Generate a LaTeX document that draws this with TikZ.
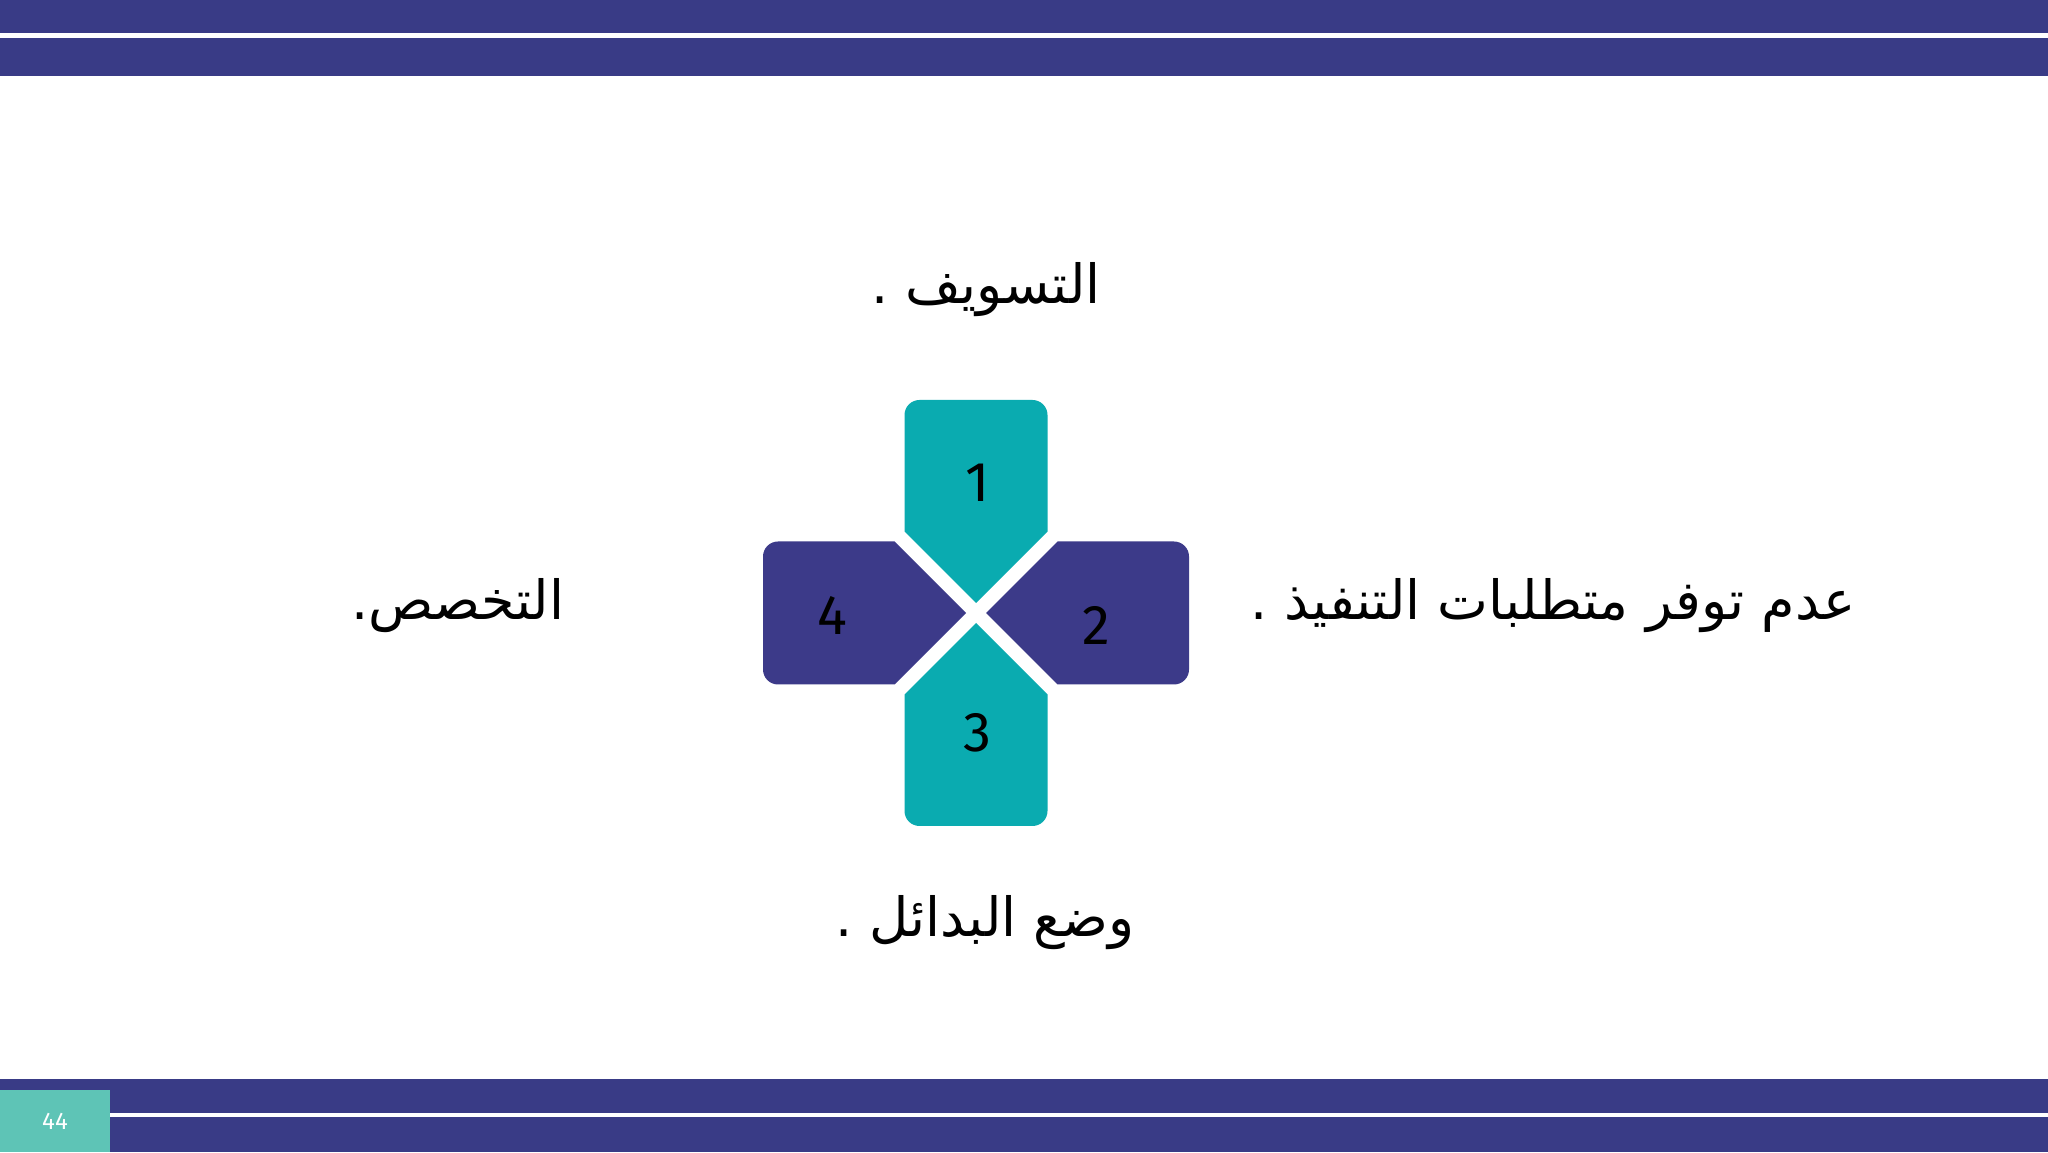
\documentclass[tikz,border=0pt]{standalone}
\usepackage{fontspec}
\TeXXeTstate=1
\newfontfamily\arabicfont[Script=Arabic]{DejaVu Sans}
\newfontfamily\numfont{Fira Sans}
\definecolor{barblue}{HTML}{393B86}
\definecolor{piecedark}{HTML}{3C3A89}
\definecolor{pieceteal}{HTML}{0AABB0}
\definecolor{pagebox}{HTML}{5EC4B6}
\begin{document}
\begin{tikzpicture}[x=1pt,y=1pt,
  label/.style={inner sep=0pt,font=\arabicfont\fontsize{54}{64}\selectfont,text=black},
  digit/.style={inner sep=0pt,font=\numfont\fontsize{56}{60}\selectfont,text=black},
  pageno/.style={inner sep=0pt,font=\numfont\fontsize{24}{28}\selectfont,text=white}]
\useasboundingbox (0,0) rectangle (2048,1152);
\fill[white] (0,0) rectangle (2048,1152);
% top bars
\fill[barblue] (0,1152) rectangle (2048,1119);
\fill[barblue] (0,1114) rectangle (2048,1076);
% bottom bars
\fill[barblue] (0,73) rectangle (2048,39);
\fill[barblue] (0,35) rectangle (2048,0);
\fill[pagebox] (0,0) rectangle (110,62);
\node[pageno] (pg) at (55,31) {44};
% cross pieces
\def\cx{976}\def\cy{539}
\newcommand{\crosspiece}[2]{%
  \fill[#2, rotate around={#1:(\cx,\cy)}]
    (\cx,\cy+10) -- (\cx+71.5,\cy+81.5) -- (\cx+71.5,\cy+198)
    arc[start angle=0,end angle=90,radius=15] -- (\cx-56.5,\cy+213)
    arc[start angle=90,end angle=180,radius=15] -- (\cx-71.5,\cy+81.5) -- cycle;}
\crosspiece{0}{pieceteal}
\crosspiece{-90}{piecedark}
\crosspiece{180}{pieceteal}
\crosspiece{90}{piecedark}
\node[digit] (d1) at (978,669) {1};
\node[digit] (d2) at (1096,527) {2};
\node[digit] (d3) at (977,419) {3};
\node[digit] (d4) at (832,537) {4};
% labels
\node[label] (t1) at (986,862) {\beginR التسويف .\endR};
\node[label] (t2) at (1553,546) {\beginR عدم توفر متطلبات التنفيذ .\endR};
\node[label] (t4) at (458,546) {\beginR التخصص.\endR};
\node[label] (t3) at (985,229) {\beginR وضع البدائل .\endR};
\end{tikzpicture}
\end{document}
